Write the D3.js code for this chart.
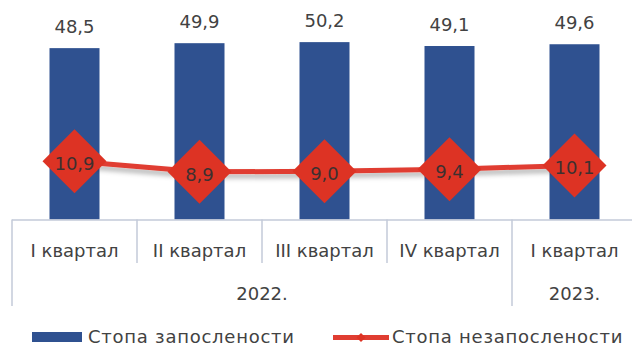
<!DOCTYPE html>
<html>
<head>
<meta charset="utf-8">
<script src="https://cdn.jsdelivr.net/npm/d3@7"></script>
<style>
  html, body { margin: 0; padding: 0; background: #fff; }
  svg { display: block; font-family: "DejaVu Sans", sans-serif; }
</style>
</head>
<body>
<svg id="chart" width="632" height="347"></svg>
<script>
// Quarters and the year each belongs to
const quarters = ["I квартал", "II квартал", "III квартал", "IV квартал", "I квартал"];
const years = ["2022.", "2022.", "2022.", "2022.", "2023."];
// Employment rate (bars) and unemployment rate (line), in percent
const employment = [48.5, 49.9, 50.2, 49.1, 49.6];
const unemployment = [10.9, 8.9, 9.0, 9.4, 10.1];
const seriesNames = ["Стопа запослености", "Стопа незапослености"];

const W = 632, H = 347;
const left = 12, bandW = 125;
const baseY = 219.5, topY = 7.5;

const svg = d3.select("#chart");
const fmt = v => d3.format(".1f")(v).replace(".", ",");

const x = d3.scaleBand()
  .domain(d3.range(quarters.length))
  .range([left, left + bandW * quarters.length])
  .paddingInner(0.6).paddingOuter(0.3);

const yBar = d3.scaleLinear().domain([0, 60]).range([baseY, topY]);
const yLine = d3.scaleLinear().domain([0, 39.6]).range([baseY, topY]);

const colBar = "#2f5190", colRed = "#dd3324", colLine = "#e03d31";
const colText = "#424242", colAxis = "#c3cad8";

// shadow under the unemployment line
const defs = svg.append("defs");
const f = defs.append("filter").attr("id", "lineShadow")
  .attr("x", "-10%").attr("y", "-100%").attr("width", "120%").attr("height", "400%");
f.append("feDropShadow").attr("dx", 0).attr("dy", 4).attr("stdDeviation", 2.5)
  .attr("flood-color", "#000").attr("flood-opacity", 0.3);

// bars
svg.append("g").selectAll("rect").data(employment).join("rect")
  .attr("x", (d, i) => x(i))
  .attr("width", x.bandwidth())
  .attr("y", d => yBar(d))
  .attr("height", d => baseY - yBar(d))
  .attr("fill", colBar);

// bar value labels
svg.append("g").selectAll("text").data(employment).join("text")
  .attr("x", (d, i) => x(i) + x.bandwidth() / 2)
  .attr("y", d => yBar(d) - 15)
  .attr("text-anchor", "middle")
  .attr("font-size", 18)
  .attr("fill", colText)
  .text(fmt);

// category axis with grouped year labels
const axis = svg.append("g").attr("stroke", colAxis).attr("stroke-width", 1.5);
axis.append("line").attr("x1", left).attr("x2", W).attr("y1", baseY + 0.5).attr("y2", baseY + 0.5);
const bounds = d3.range(quarters.length + 1).map(i => left + i * bandW);
bounds.forEach((bx, i) => {
  const groupEdge = i === 0 || i === quarters.length || years[i] !== years[i - 1];
  axis.append("line")
    .attr("x1", bx).attr("x2", bx)
    .attr("y1", baseY).attr("y2", groupEdge ? 306 : 263);
});

svg.append("g").selectAll("text").data(quarters).join("text")
  .attr("x", (d, i) => left + (i + 0.5) * bandW)
  .attr("y", 257)
  .attr("text-anchor", "middle")
  .attr("font-size", 18)
  .attr("fill", colText)
  .text(d => d);

const yearGroups = d3.groups(years.map((y, i) => ({ y, i })), d => d.y);
svg.append("g").selectAll("text").data(yearGroups).join("text")
  .attr("x", g => left + (d3.min(g[1], d => d.i) + d3.max(g[1], d => d.i) + 1) / 2 * bandW)
  .attr("y", 300)
  .attr("text-anchor", "middle")
  .attr("font-size", 18)
  .attr("fill", colText)
  .text(g => g[0]);

// unemployment line
const cx = i => x(i) + x.bandwidth() / 2;
svg.append("path")
  .datum(unemployment)
  .attr("d", d3.line().x((d, i) => cx(i)).y(d => yLine(d)))
  .attr("fill", "none")
  .attr("stroke", colLine)
  .attr("stroke-width", 5)
  .attr("filter", "url(#lineShadow)");

// diamond markers with labels
const half = 32;
const diamond = (px, py, r) => `M${px},${py - r}L${px + r},${py}L${px},${py + r}L${px - r},${py}Z`;
svg.append("g").selectAll("path").data(unemployment).join("path")
  .attr("d", (d, i) => diamond(cx(i), yLine(d), half))
  .attr("fill", colRed);
svg.append("g").selectAll("text").data(unemployment).join("text")
  .attr("x", (d, i) => cx(i))
  .attr("y", d => yLine(d) + 9)
  .attr("text-anchor", "middle")
  .attr("font-size", 18)
  .attr("fill", "#3d3030")
  .text(fmt);

// legend
const lg = svg.append("g");
lg.append("rect").attr("x", 32).attr("y", 332).attr("width", 50).attr("height", 10).attr("fill", colBar);
lg.append("text").attr("x", 88).attr("y", 343).attr("font-size", 18).attr("letter-spacing", 0.75)
  .attr("fill", colText).text(seriesNames[0]);
lg.append("line").attr("x1", 333).attr("x2", 389).attr("y1", 337.5).attr("y2", 337.5)
  .attr("stroke", colLine).attr("stroke-width", 5);
lg.append("path").attr("d", diamond(361, 337.5, 4.5)).attr("fill", colRed);
lg.append("text").attr("x", 392).attr("y", 343).attr("font-size", 18).attr("letter-spacing", 0.75)
  .attr("fill", colText).text(seriesNames[1]);
</script>
</body>
</html>
